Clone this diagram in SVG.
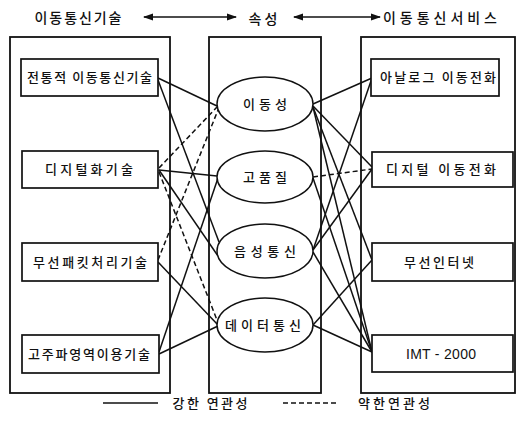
<svg xmlns="http://www.w3.org/2000/svg" width="516" height="438" viewBox="0 0 516 438">
<defs>
<style>
text{font-family:"Noto Sans CJK KR","Noto Sans",sans-serif;font-size:13px;fill:#111;text-anchor:middle;font-weight:500}
.hdr{font-size:14px}
.cont{fill:none;stroke:#111;stroke-width:1.8}
.box{fill:#fff;stroke:#111;stroke-width:1.7}
.ell{fill:#fff;stroke:#111;stroke-width:1.5}
.s{stroke:#111;stroke-width:1.5;fill:none}
.d{stroke:#111;stroke-width:1.5;fill:none;stroke-dasharray:5 3}
</style>
<marker id="ah" viewBox="0 0 10 10" refX="9" refY="5" markerWidth="7" markerHeight="7" orient="auto-start-reverse">
<path d="M0,1.5 L10,5 L0,8.5 Z" fill="#111"/>
</marker>
</defs>
<rect width="516" height="438" fill="#fff"/>

<g id="header">
<text class="hdr" x="78" y="23" textLength="87" lengthAdjust="spacing">이동통신기술</text>
<line class="s" x1="144" y1="17" x2="236" y2="17" stroke-width="2" marker-start="url(#ah)" marker-end="url(#ah)"/>
<text class="hdr" x="263" y="24" textLength="29" lengthAdjust="spacing">속성</text>
<line class="s" x1="294" y1="17" x2="380" y2="17" stroke-width="2" marker-start="url(#ah)" marker-end="url(#ah)"/>
<text class="hdr" x="440" y="23" textLength="114" lengthAdjust="spacing">이동통신서비스</text>
</g>

<g id="containers">
<rect class="cont" x="10" y="37" width="160" height="356"/>
<rect class="cont" x="209" y="37" width="112" height="356"/>
<rect class="cont" x="361" y="37" width="154" height="356"/>
</g>

<g id="connectors">
<line class="s" x1="158" y1="78" x2="217" y2="106"/>
<line class="s" x1="158" y1="80" x2="219" y2="242"/>
<line class="d" x1="159" y1="168" x2="217" y2="107"/>
<line class="s" x1="159" y1="170" x2="217" y2="176"/>
<line class="s" x1="159" y1="170" x2="218" y2="256"/>
<line class="d" x1="159" y1="172" x2="217" y2="320"/>
<line class="d" x1="158" y1="260" x2="218" y2="110"/>
<line class="s" x1="158" y1="262" x2="218" y2="325"/>
<line class="s" x1="159" y1="352" x2="218" y2="178"/>
<line class="s" x1="159" y1="354" x2="218" y2="326"/>

<line class="s" x1="313" y1="104" x2="372" y2="78"/>
<line class="s" x1="313" y1="106" x2="372" y2="167"/>
<line class="s" x1="313" y1="107" x2="372" y2="260"/>
<line class="s" x1="313" y1="107" x2="372" y2="352"/>
<line class="d" x1="313" y1="177" x2="372" y2="169"/>
<line class="s" x1="313" y1="178" x2="372" y2="352"/>
<line class="s" x1="313" y1="250" x2="372" y2="78"/>
<line class="s" x1="313" y1="250" x2="372" y2="169"/>
<line class="s" x1="313" y1="252" x2="372" y2="352"/>
<line class="s" x1="313" y1="325" x2="372" y2="260"/>
<line class="s" x1="313" y1="325" x2="372" y2="352"/>
</g>

<g id="tech1"><rect class="box" x="21" y="59" width="137" height="37"/><text x="89.5" y="82" textLength="125" lengthAdjust="spacing">전통적 이동통신기술</text></g>
<g id="tech2"><rect class="box" x="22" y="151" width="136" height="37"/><text x="89" y="174" textLength="88" lengthAdjust="spacing">디지털화기술</text></g>
<g id="tech3"><rect class="box" x="22" y="243" width="136" height="38"/><text x="90" y="267" textLength="114" lengthAdjust="spacing">무선패킷처리기술</text></g>
<g id="tech4"><rect class="box" x="22" y="335" width="137" height="38"/><text x="89" y="359" textLength="122" lengthAdjust="spacing">고주파영역이용기술</text></g>

<g id="attr1"><ellipse class="ell" cx="265" cy="104" rx="48" ry="27"/><text x="265" y="109" textLength="44" lengthAdjust="spacing">이동성</text></g>
<g id="attr2"><ellipse class="ell" cx="265" cy="177" rx="48" ry="26"/><text x="265" y="182" textLength="44" lengthAdjust="spacing">고품질</text></g>
<g id="attr3"><ellipse class="ell" cx="265" cy="251" rx="48" ry="27"/><text x="265" y="256" textLength="62" lengthAdjust="spacing">음성통신</text></g>
<g id="attr4"><ellipse class="ell" cx="265" cy="325" rx="48" ry="27"/><text x="263" y="330" textLength="76" lengthAdjust="spacing">데이터통신</text></g>

<g id="svc1"><rect class="box" x="371" y="59" width="128" height="37"/><text x="438" y="82" textLength="116" lengthAdjust="spacing">아날로그 이동전화</text></g>
<g id="svc2"><rect class="box" x="372" y="152" width="141" height="35"/><text x="441" y="174" textLength="110" lengthAdjust="spacing">디지털 이동전화</text></g>
<g id="svc3"><rect class="box" x="372" y="243" width="141" height="38"/><text x="439" y="267" textLength="70" lengthAdjust="spacing">무선인터넷</text></g>
<g id="svc4"><rect class="box" x="372" y="335" width="141" height="37"/><text x="441" y="359" style="font-family:'Liberation Sans',Arial,sans-serif;font-size:14px" textLength="70" lengthAdjust="spacing">IMT - 2000</text></g>

<g id="legend">
<line class="s" x1="103" y1="403" x2="158" y2="403"/>
<text x="210" y="408" textLength="75" lengthAdjust="spacing">강한 연관성</text>
<line class="d" x1="283" y1="403" x2="338" y2="403" stroke-dasharray="3.5 2.5"/>
<text x="394" y="408" textLength="72" lengthAdjust="spacing">약한연관성</text>
</g>
</svg>
